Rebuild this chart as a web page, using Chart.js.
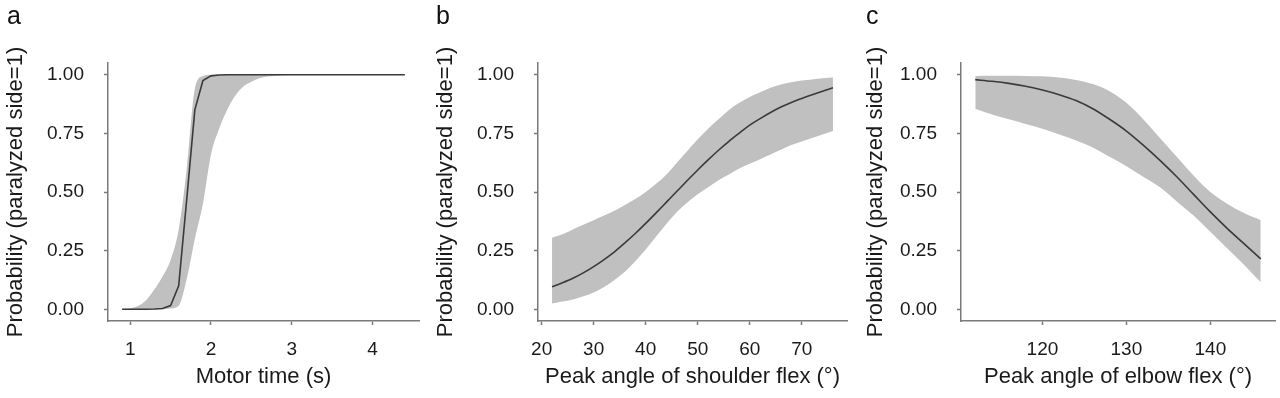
<!DOCTYPE html>
<html>
<head>
<meta charset="utf-8">
<script src="https://cdn.jsdelivr.net/npm/chart.js@4.4.1/dist/chart.umd.min.js"></script>
<style>
  html, body { margin: 0; padding: 0; background: #fff; }
  body { width: 1280px; height: 398px; position: relative; overflow: hidden;
         font-family: 'Liberation Sans', Arial, Helvetica, sans-serif; }
  .panel { position: absolute; top: 0; height: 398px; }
  .letter { position: absolute; top: 1px; font-size: 25px; color: #111; line-height: 28px; }
</style>
</head>
<body>
<div class="panel" style="left:0;width:430px"><canvas id="ca" width="430" height="398"></canvas></div>
<div class="panel" style="left:430px;width:430px"><canvas id="cb" width="430" height="398"></canvas></div>
<div class="panel" style="left:860px;width:420px"><canvas id="cc" width="420" height="398"></canvas></div>
<div class="letter" style="left:7px">a</div>
<div class="letter" style="left:436px">b</div>
<div class="letter" style="left:866px">c</div>
<script>
// ---------- Data ----------
// Panel a: Motor time (s)
const aX     = [0.9, 1.0, 1.1, 1.2, 1.3, 1.4, 1.5, 1.6, 1.7, 1.8, 1.9, 2.0, 2.1, 2.2, 2.3, 2.4, 2.5, 2.6, 2.7, 2.8, 2.9, 3.0, 3.2, 3.4, 3.6, 3.8, 4.0, 4.2, 4.4];
const aMean  = [0, 0, 0, 0, 0.001, 0.003, 0.016, 0.10, 0.47, 0.85, 0.975, 0.995, 0.999, 1, 1, 1, 1, 1, 1, 1, 1, 1, 1, 1, 1, 1, 1, 1, 1];
const aUpper = [0.001, 0.004, 0.015, 0.04, 0.085, 0.14, 0.21, 0.34, 0.60, 0.94, 0.995, 1, 1, 1, 1, 1, 1, 1, 1, 1, 1, 1, 1, 1, 1, 1, 1, 1, 1];
const aLower = [0, 0, 0, 0, 0, 0, 0.003, 0.015, 0.13, 0.30, 0.45, 0.66, 0.77, 0.85, 0.91, 0.95, 0.97, 0.985, 0.992, 0.996, 0.998, 1, 1, 1, 1, 1, 1, 1, 1];
const aTicks = [1, 2, 3, 4];

// Panel b: Peak angle of shoulder flex (°)
const bX     = [22, 24, 26, 28, 30, 32, 34, 36, 38, 40, 42, 44, 46, 48, 50, 52, 54, 56, 58, 60, 62, 64, 66, 68, 70, 72, 74, 76];
const bMean  = [0.096, 0.113, 0.132, 0.155, 0.182, 0.212, 0.245, 0.283, 0.323, 0.366, 0.411, 0.457, 0.503, 0.549, 0.594, 0.637, 0.678, 0.716, 0.751, 0.785, 0.813, 0.839, 0.862, 0.882, 0.899, 0.915, 0.930, 0.944];
const bUpper = [0.305, 0.32, 0.34, 0.36, 0.38, 0.40, 0.42, 0.445, 0.47, 0.50, 0.535, 0.575, 0.625, 0.675, 0.725, 0.77, 0.81, 0.85, 0.88, 0.905, 0.925, 0.945, 0.958, 0.968, 0.975, 0.98, 0.985, 0.988];
const bLower = [0.025, 0.033, 0.042, 0.055, 0.072, 0.095, 0.125, 0.16, 0.205, 0.255, 0.31, 0.365, 0.415, 0.455, 0.49, 0.52, 0.55, 0.575, 0.60, 0.62, 0.64, 0.66, 0.68, 0.70, 0.715, 0.73, 0.745, 0.76];
const bTicks = [20, 30, 40, 50, 60, 70];

// Panel c: Peak angle of elbow flex (°)
const cX     = [112, 114, 116, 118, 120, 122, 124, 126, 128, 130, 132, 134, 136, 138, 140, 142, 144, 146];
const cMean  = [0.979, 0.972, 0.963, 0.951, 0.935, 0.915, 0.89, 0.855, 0.81, 0.76, 0.70, 0.635, 0.565, 0.49, 0.415, 0.345, 0.28, 0.215];
const cUpper = [0.995, 0.996, 0.996, 0.995, 0.993, 0.988, 0.978, 0.96, 0.93, 0.88, 0.81, 0.73, 0.65, 0.57, 0.50, 0.45, 0.41, 0.38];
const cLower = [0.855, 0.83, 0.81, 0.79, 0.77, 0.745, 0.72, 0.69, 0.65, 0.61, 0.565, 0.52, 0.46, 0.40, 0.33, 0.26, 0.19, 0.115];
const cTicks = [120, 130, 140];

const yTicks = [0, 0.25, 0.5, 0.75, 1];
const yTitle = 'Probability (paralyzed side=1)';

// ---------- Chart ----------
Chart.defaults.font.family = "'Liberation Sans', Arial, Helvetica, sans-serif";
Chart.defaults.color = '#1a1a1a';

const AXIS = '#7a7a7a';
const BAND = 'rgb(192,192,192)';
const LINE = '#3a3a3a';

function pts(xs, ys) { return xs.map((x, i) => ({ x: x, y: ys[i] })); }

function makeChart(id, cfg) {
  new Chart(document.getElementById(id), {
    type: 'line',
    data: {
      datasets: [
        { data: pts(cfg.x, cfg.mean), borderWidth: 1.6, borderColor: LINE, pointRadius: 0, fill: false, cubicInterpolationMode: cfg.lineMode },
        { data: pts(cfg.x, cfg.upper), borderWidth: 0, pointRadius: 0, backgroundColor: BAND, fill: '+1', cubicInterpolationMode: 'monotone' },
        { data: pts(cfg.x, cfg.lower), borderWidth: 0, pointRadius: 0, backgroundColor: BAND, fill: false, cubicInterpolationMode: 'monotone' }
      ]
    },
    options: {
      responsive: false,
      animation: false,
      devicePixelRatio: 1,
      layout: { padding: { left: 0, right: cfg.padRight, top: 63, bottom: 0 } },
      plugins: { legend: { display: false }, tooltip: { enabled: false } },
      scales: {
        x: {
          type: 'linear', min: cfg.min, max: cfg.max,
          afterBuildTicks: s => { s.ticks = cfg.ticks.map(v => ({ value: v })); },
          afterFit: s => { s.height = 77; },
          grid: { drawOnChartArea: false, tickLength: 4, tickColor: AXIS, tickWidth: 1.5 },
          border: { display: true, color: AXIS, width: 1.5 },
          ticks: { font: { size: 19 }, color: '#1a1a1a', padding: 13, maxRotation: 0, callback: v => String(v) },
          title: { display: true, text: cfg.title, font: { size: 22 }, color: '#1a1a1a', padding: { top: 0, bottom: 8 } }
        },
        y: {
          type: 'linear', min: -0.05, max: 1.05,
          afterBuildTicks: s => { s.ticks = yTicks.map(v => ({ value: v })); },
          afterFit: s => { s.width = cfg.yWidth; },
          grid: { drawOnChartArea: false, tickLength: 4, tickColor: AXIS, tickWidth: 1.5 },
          border: { display: true, color: AXIS, width: 1.5 },
          ticks: { font: { size: 19 }, color: '#1a1a1a', padding: 20, callback: v => Number(v).toFixed(2) },
          title: { display: true, text: yTitle, font: { size: 22 }, color: '#1a1a1a', padding: { top: 3, bottom: 0 } }
        }
      }
    }
  });
}

makeChart('ca', { x: aX, mean: aMean, upper: aUpper, lower: aLower, ticks: aTicks, min: 0.725, max: 4.575,
  title: 'Motor time (s)', yWidth: 108, padRight: 11, lineMode: 'default' });
makeChart('cb', { x: bX, mean: bMean, upper: bUpper, lower: bLower, ticks: bTicks, min: 19.3, max: 78.7,
  title: 'Peak angle of shoulder flex (°)', yWidth: 108, padRight: 13, lineMode: 'monotone' });
makeChart('cc', { x: cX, mean: cMean, upper: cUpper, lower: cLower, ticks: cTicks, min: 110.3, max: 147.7,
  title: 'Peak angle of elbow flex (°)', yWidth: 101, padRight: 5, lineMode: 'monotone' });
</script>
</body>
</html>
